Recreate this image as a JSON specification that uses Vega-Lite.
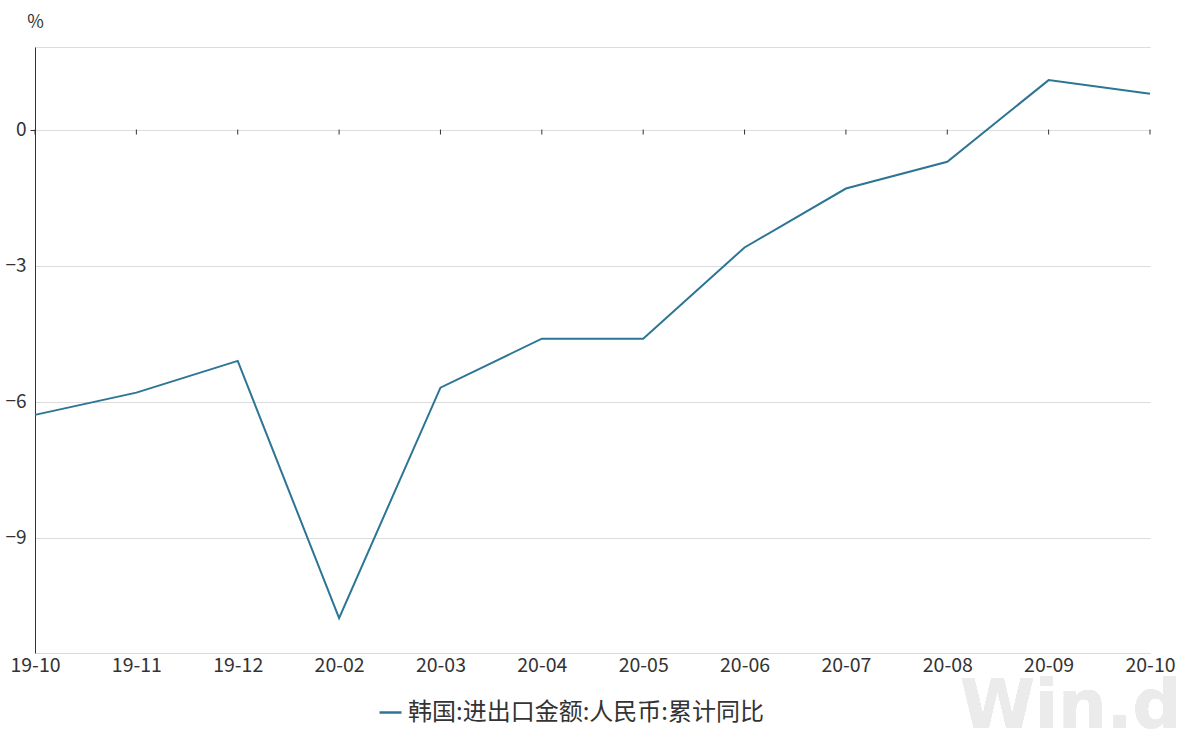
{
  "$schema": "https://vega.github.io/schema/vega-lite/v6.json",
  "width": 1115,
  "height": 606,
  "autosize": "none",
  "padding": {"left": 35, "top": 47, "right": 29, "bottom": 81},
  "background": "white",
  "config": {
    "view": {"stroke": null},
    "font": "Noto Sans CJK SC"
  },
  "data": {
    "values": [
      {"month": "19-10", "value": -6.29, "series": "韩国:进出口金额:人民币:累计同比"},
      {"month": "19-11", "value": -5.80, "series": "韩国:进出口金额:人民币:累计同比"},
      {"month": "19-12", "value": -5.10, "series": "韩国:进出口金额:人民币:累计同比"},
      {"month": "20-02", "value": -10.77, "series": "韩国:进出口金额:人民币:累计同比"},
      {"month": "20-03", "value": -5.69, "series": "韩国:进出口金额:人民币:累计同比"},
      {"month": "20-04", "value": -4.61, "series": "韩国:进出口金额:人民币:累计同比"},
      {"month": "20-05", "value": -4.61, "series": "韩国:进出口金额:人民币:累计同比"},
      {"month": "20-06", "value": -2.60, "series": "韩国:进出口金额:人民币:累计同比"},
      {"month": "20-07", "value": -1.30, "series": "韩国:进出口金额:人民币:累计同比"},
      {"month": "20-08", "value": -0.71, "series": "韩国:进出口金额:人民币:累计同比"},
      {"month": "20-09", "value": 1.09, "series": "韩国:进出口金额:人民币:累计同比"},
      {"month": "20-10", "value": 0.79, "series": "韩国:进出口金额:人民币:累计同比"}
    ]
  },
  "encoding": {
    "x": {
      "field": "month",
      "type": "ordinal",
      "sort": null,
      "scale": {"type": "point", "padding": 0, "domain": ["19-10", "19-11", "19-12", "20-02", "20-03", "20-04", "20-05", "20-06", "20-07", "20-08", "20-09", "20-10"]},
      "axis": {
        "title": null,
        "labelAngle": 0,
        "labelFontSize": 19.5,
        "labelColor": "#333333",
        "labelPadding": 3,
        "ticks": false,
        "domain": true,
        "domainColor": "#d9d9d9",
        "grid": false
      }
    }
  },
  "layer": [
    {
      "mark": {"type": "text", "text": "Win.d", "fontSize": 68, "fontWeight": "bold", "font": "DejaVu Sans", "color": "#ebebeb", "align": "center", "baseline": "middle", "dx": 22},
      "encoding": {
        "x": {"datum": "20-09"},
        "y": {"datum": -12.75}
      }
    },
    {
      "mark": {"type": "rule", "color": "#333333", "strokeWidth": 1},
      "encoding": {"y": {"datum": 0}}
    },
    {
      "mark": {"type": "rule", "color": "#333333", "strokeWidth": 1},
      "encoding": {
        "y": {"datum": 0},
        "y2": {"datum": -0.11}
      }
    },
    {
      "mark": {"type": "line", "strokeWidth": 2},
      "encoding": {
        "y": {
          "field": "value",
          "type": "quantitative",
          "scale": {"domain": [-11.54, 1.82], "nice": false, "zero": false},
          "axis": {
            "title": "%",
            "titleAngle": 0,
            "titleAnchor": "end",
            "titleAlign": "center",
            "titleBaseline": "middle",
            "titleX": 0,
            "titleY": -25,
            "titleFontSize": 18,
            "titleFontWeight": "normal",
            "titleColor": "#333333",
            "values": [-11.54, -9, -6, -3, 0, 1.82],
            "labelExpr": "datum.value == -9 || datum.value == -6 || datum.value == -3 || datum.value == 0 ? datum.label : ''",
            "labelFontSize": 19,
            "labelColor": "#333333",
            "labelPadding": 4,
            "tickSize": 5,
            "tickColor": {"condition": {"test": "datum.value == 0", "value": "#333333"}, "value": "transparent"},
            "domainColor": "#333333",
            "grid": true,
            "gridColor": "#dcdcdc",
            "gridWidth": 1
          }
        },
        "color": {
          "field": "series",
          "type": "nominal",
          "scale": {"range": ["#2d7595"]},
          "legend": {
            "title": null,
            "orient": "none",
            "legendX": 343,
            "legendY": 653,
            "direction": "horizontal",
            "symbolType": "stroke",
            "symbolStrokeWidth": 2.5,
            "symbolSize": 484,
            "labelFontSize": 24,
            "labelLimit": 600,
            "labelOffset": 5,
            "labelColor": "#333333"
          }
        }
      }
    }
  ]
}
